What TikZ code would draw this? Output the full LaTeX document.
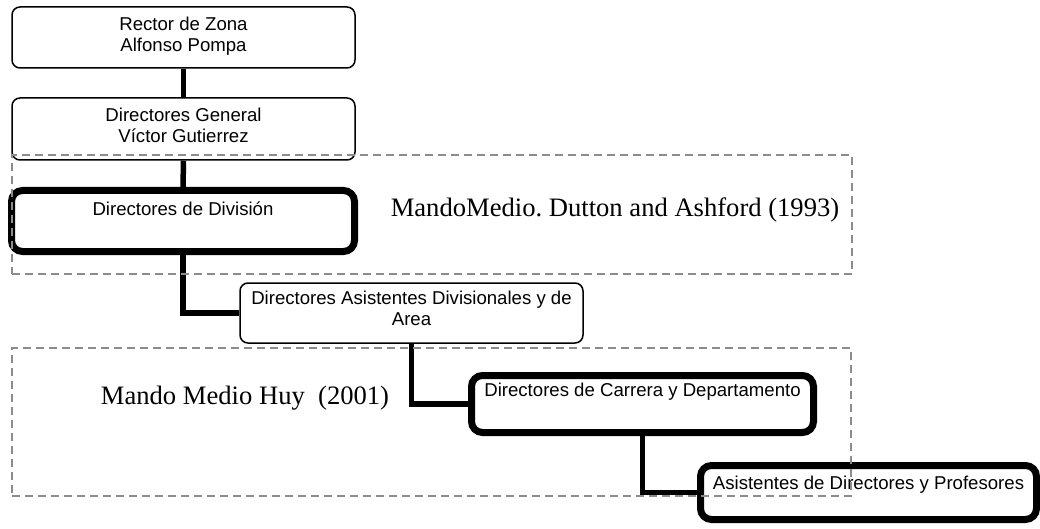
\documentclass[tikz,border=0pt]{standalone}
\usepackage{fontspec}
\setmainfont{Liberation Serif}
\newfontfamily\boxfont{Liberation Sans}
\frenchspacing
% invisible strut that adds depth below a line of text
\newcommand{\sinkby}[1]{\rule[-#1]{0pt}{#1}}
\begin{document}
\begin{tikzpicture}[x=1pt,y=-1pt,
  orgbox/.style={draw=black, fill=white, rounded corners=8pt, line width=1.5pt,
    inner sep=0pt, align=center, font=\boxfont\fontsize{18.6}{21}\selectfont},
  keybox/.style={orgbox, line width=7pt, rounded corners=11pt},
  link/.style={draw=black, line width=5.5pt},
  zone/.style={draw=black!45, line width=1.5pt, dash pattern=on 8pt off 5pt, inner sep=0pt},
  zonelabel/.style={font=\fontsize{26.6}{30}\selectfont, inner sep=0pt}]
\useasboundingbox (0,0) rectangle (1040,529);

% hierarchy boxes
\node[orgbox, minimum width=343pt, minimum height=61pt] (rector) at (183.5,37.5)
  {Rector de Zona\\Alfonso Pompa\sinkby{6pt}};
\node[orgbox, minimum width=343pt, minimum height=62pt] (general) at (183.5,129)
  {Directores General\\Víctor Gutierrez\sinkby{7pt}};
\node[keybox, minimum width=343pt, minimum height=61pt] (division) at (183,221)
  {Directores de División\sinkby{25pt}};
\node[orgbox, minimum width=343pt, minimum height=60pt] (asist) at (411.5,313)
  {Directores Asistentes Divisionales y de\\Area\sinkby{9pt}};
\node[keybox, minimum width=342pt, minimum height=57pt] (carrera) at (642.5,404)
  {Directores de Carrera y Departamento\sinkby{28pt}};
\node[keybox, minimum width=336pt, minimum height=54pt] (asistentes) at (868.5,492.5)
  {Asistentes de Directores y Profesores\sinkby{19pt}};

% reporting lines
\draw[link] (rector.south) -- (general.north);
\draw[link] (general.south) -- (division.north);
\draw[link] (division.south) |- (asist.west);
\draw[link] (asist.south) |- (carrera.west);
\draw[link] (carrera.south) |- (asistentes.west);

% middle-management zones
\node[zonelabel] (labelA) at (615,210) {MandoMedio. Dutton and Ashford (1993)};
\node[zonelabel] (labelB) at (245,398) {Mando Medio Huy\ \ (2001)};
\node[zone, minimum width=840pt, minimum height=119pt] (zoneA) at (432,214.5) {};
\node[zone, minimum width=839pt, minimum height=148pt] (zoneB) at (431.5,422) {};
\end{tikzpicture}
\end{document}
